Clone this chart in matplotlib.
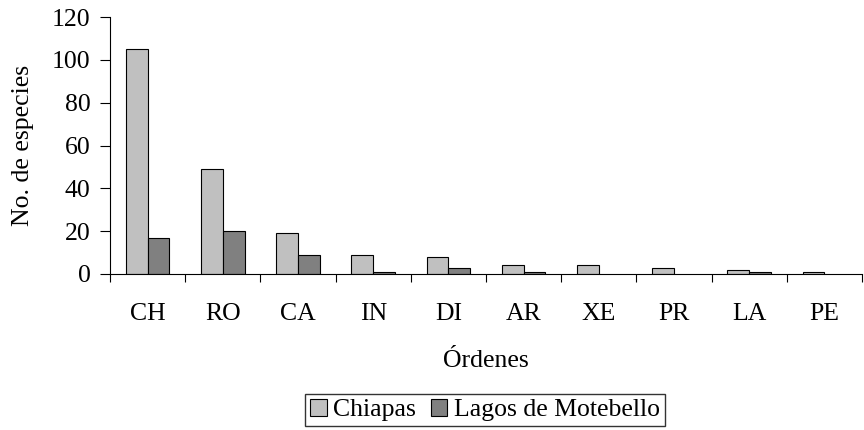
import matplotlib
matplotlib.use('Agg')
import matplotlib.pyplot as plt
import numpy as np

# Datos
ordenes = ['CH', 'RO', 'CA', 'IN', 'DI', 'AR', 'XE', 'PR', 'LA', 'PE']
chiapas = [105, 49, 19, 9, 8, 4, 4, 3, 2, 1]
motebello = [17, 20, 9, 1, 3, 1, 0, 0, 1, 0]

plt.rcParams['font.family'] = ['Liberation Serif', 'DejaVu Serif']
FS = 18.5

fig = plt.figure(figsize=(8.64, 4.30), dpi=100)
ax = fig.add_axes([110 / 864, 1 - 274 / 430, 752 / 864, 257 / 430])

x = np.arange(len(ordenes))
w = 0.29
# sin borde para barras de altura cero
lw_ch = [0.8 if v > 0 else 0 for v in chiapas]
lw_mo = [0.8 if v > 0 else 0 for v in motebello]
ax.bar(x - w / 2, chiapas, w, color='#C0C0C0', edgecolor='black', linewidth=lw_ch, label='Chiapas')
ax.bar(x + w / 2, motebello, w, color='#808080', edgecolor='black', linewidth=lw_mo, label='Lagos de Motebello')

ax.set_xlim(-0.5, len(ordenes) - 0.5)
ax.set_ylim(0, 120)
ax.set_yticks(range(0, 121, 20))

# ticks entre categorias
ax.set_xticks(np.arange(-0.5, len(ordenes), 1))
ax.set_xticklabels([])
ax.set_xticks(x, minor=True)
ax.set_xticklabels(ordenes, minor=True, fontsize=FS)
ax.tick_params(axis='x', which='minor', length=0, pad=21)
ax.tick_params(axis='x', which='major', direction='out', length=6, width=0.8)
ax.tick_params(axis='y', direction='out', length=7, width=0.8, pad=7, labelsize=FS)

ax.spines['top'].set_visible(False)
ax.spines['right'].set_visible(False)
ax.spines['left'].set_linewidth(0.8)
ax.spines['bottom'].set_linewidth(0.8)

ax.set_xlabel('Órdenes', fontsize=FS)
ax.xaxis.set_label_coords(0.5, -0.296)
ax.set_ylabel('No. de especies', fontsize=FS)
ax.yaxis.set_label_coords(-0.101, 0.5)

fig.legend(loc='center', bbox_to_anchor=(485 / 864, 1 - 410 / 430), ncol=2,
           fontsize=FS, frameon=True, fancybox=False, edgecolor='black',
           handlelength=0.65, handleheight=0.65, handletextpad=0.25,
           columnspacing=0.55, borderpad=0.2, borderaxespad=0)

plt.savefig('out.png', dpi=100)
